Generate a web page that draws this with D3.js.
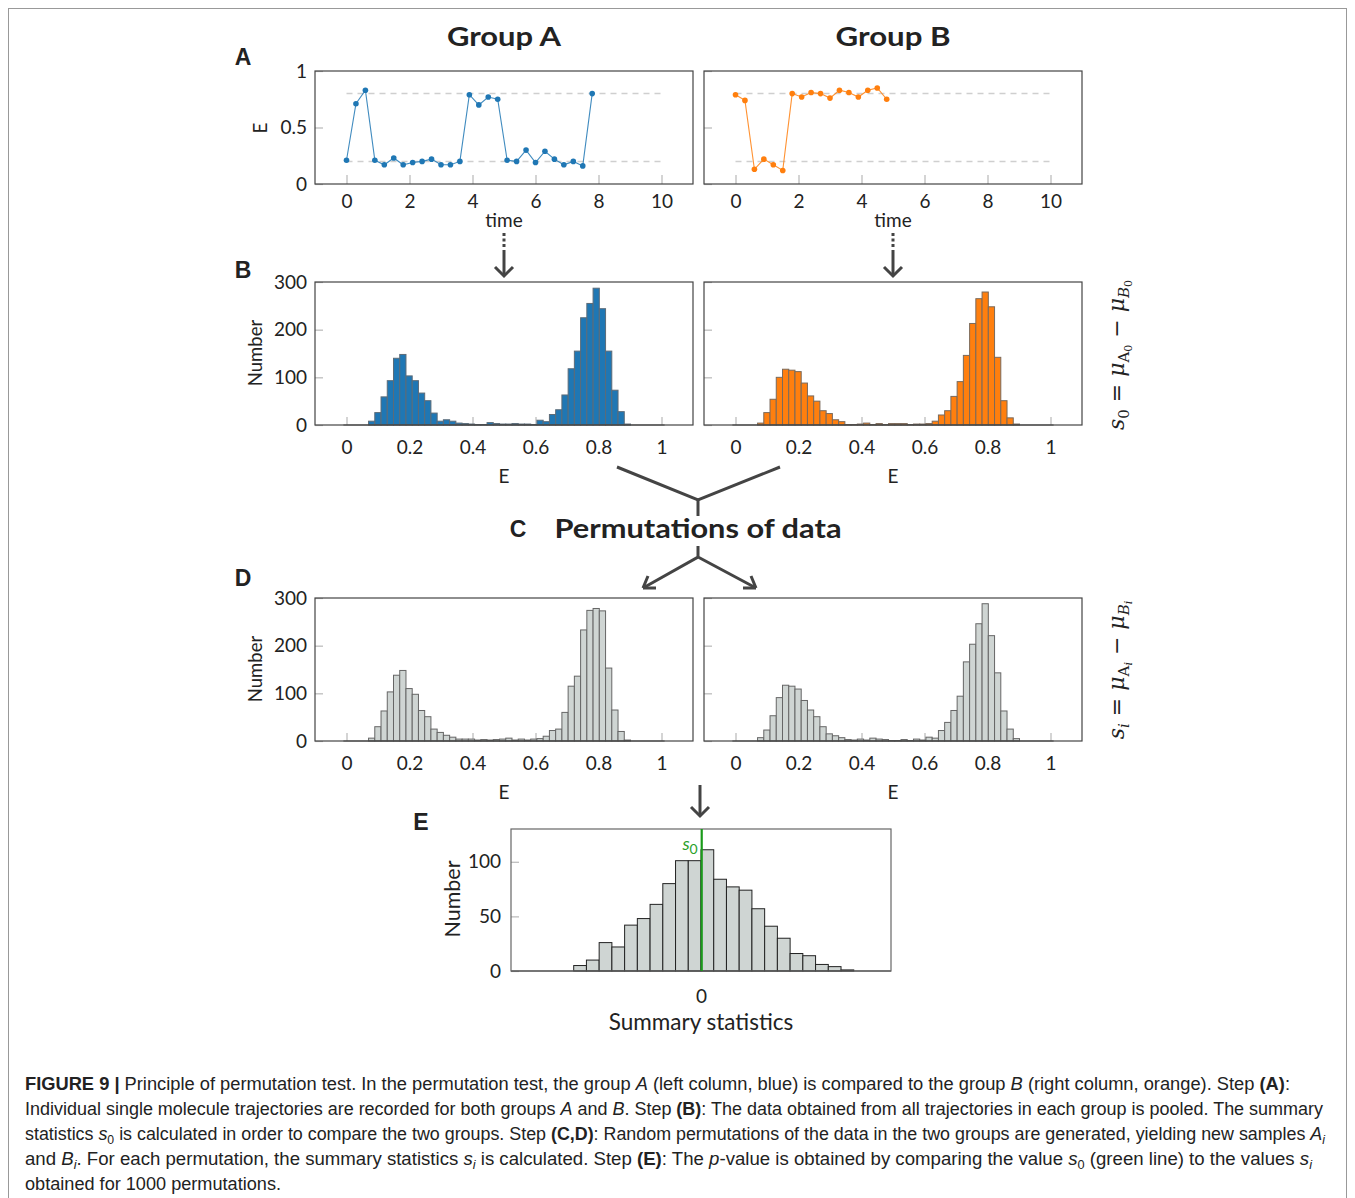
<!DOCTYPE html>
<html>
<head>
<meta charset="utf-8">
<script src="https://cdn.jsdelivr.net/npm/d3@7"></script>
<style>
  body { margin: 0; background: #fff; }
  svg text { font-family: Lato, "Open Sans", sans-serif; }
</style>
</head>
<body>
<svg width="1355" height="1198"></svg>
<script>
// ---- data ----
const timeA  = [0, 0.3, 0.6, 0.9, 1.2, 1.5, 1.8, 2.1, 2.4, 2.7, 3.0, 3.3, 3.6, 3.9, 4.2, 4.5, 4.8, 5.1, 5.4, 5.7, 6.0, 6.3, 6.6, 6.9, 7.2, 7.5, 7.8];
const valueA = [0.21, 0.71, 0.83, 0.21, 0.17, 0.23, 0.17, 0.19, 0.20, 0.22, 0.17, 0.17, 0.20, 0.79, 0.70, 0.77, 0.75, 0.21, 0.20, 0.30, 0.19, 0.29, 0.22, 0.17, 0.20, 0.16, 0.80];
const timeB  = [0, 0.3, 0.6, 0.9, 1.2, 1.5, 1.8, 2.1, 2.4, 2.7, 3.0, 3.3, 3.6, 3.9, 4.2, 4.5, 4.8];
const valueB = [0.79, 0.74, 0.13, 0.22, 0.17, 0.12, 0.80, 0.77, 0.81, 0.80, 0.76, 0.83, 0.81, 0.77, 0.83, 0.85, 0.75];
const levels = [0.2, 0.8];

// histograms of E: 42 bins starting at 0.07
const binStart = 0.07, binWidth = 0.0198;
const countsA0 = [8, 26, 59, 93, 140, 148, 103, 93, 67, 51, 25, 8, 11, 8, 4, 3, 2, 1, 1, 5, 3, 2, 2, 3, 2, 2, 1, 10, 7, 22, 32, 63, 118, 155, 225, 255, 287, 244, 155, 73, 28, 2];
const countsB0 = [4, 26, 54, 100, 117, 115, 112, 88, 61, 50, 30, 24, 11, 7, 1, 1, 2, 4, 1, 3, 1, 3, 3, 3, 1, 2, 2, 3, 8, 21, 30, 60, 91, 146, 213, 265, 279, 248, 142, 51, 15, 2];
const countsAi = [6, 30, 63, 103, 138, 148, 110, 98, 64, 51, 25, 18, 12, 8, 4, 4, 4, 2, 3, 2, 3, 4, 6, 2, 4, 2, 4, 5, 10, 22, 25, 60, 115, 136, 233, 274, 278, 273, 153, 65, 20, 2];
const countsBi = [7, 23, 53, 91, 117, 115, 109, 85, 65, 51, 30, 15, 11, 7, 3, 2, 4, 2, 6, 4, 3, 1, 1, 3, 1, 4, 2, 8, 6, 22, 39, 64, 94, 166, 203, 246, 288, 221, 143, 63, 25, 5];

// summary statistics histogram
const summaryBinStart = -0.0536, summaryBinWidth = 0.00536;
const summaryCounts = [5, 10, 26, 22, 42, 48, 61, 80, 101, 101, 111, 84, 77, 74, 57, 41, 30, 16, 14, 6, 4, 1];
const s0Value = 0.0003;

const timeTicks = [0, 2, 4, 6, 8, 10];
const eTicks = [0, 0.2, 0.4, 0.6, 0.8, 1];
const traceYTicks = [0, 0.5, 1];
const countTicks = [0, 100, 200, 300];
const summaryXTicks = [-0.02, 0, 0.02];
const summaryYTicks = [0, 50, 100];

// ---- drawing ----
const svg = d3.select("svg");
const FONT = "Lato, 'Open Sans', sans-serif";
const BOLD = "'Liberation Sans', Arial, sans-serif";
const colX = [315, 704], panelW = 378;

svg.append("rect").attr("x", 8.5).attr("y", 8.5).attr("width", 1338).attr("height", 1200)
  .attr("fill", "none").attr("stroke", "#999");

function styleAxis(sel, size) {
  sel.select(".domain").remove();
  sel.selectAll(".tick line").attr("stroke", "#b8b8b8").attr("stroke-width", 1.2);
  sel.selectAll(".tick text").attr("fill", "#222").style("font-family", FONT).style("font-size", size + "px");
}

function frame(g, w, h, color) {
  g.append("rect").attr("width", w).attr("height", h)
    .attr("fill", "none").attr("stroke", color || "#444").attr("stroke-width", 1.2);
}

function label(x, y, txt, size, opts) {
  opts = opts || {};
  const t = svg.append("text").attr("transform", `translate(${x},${y})` + (opts.rot ? " rotate(-90)" : ""))
    .attr("text-anchor", opts.anchor || "middle").attr("fill", opts.fill || "#222")
    .style("font-size", size + "px").text(txt);
  if (opts.bold) t.style("font-weight", "bold").style("font-family", opts.family || BOLD);
  if (opts.len) t.attr("textLength", opts.len).attr("lengthAdjust", "spacingAndGlyphs");
  return t;
}

// panel A: trajectories
function tracePanel(x0, times, values, color, showY) {
  const h = 113;
  const g = svg.append("g").attr("transform", `translate(${x0},71)`);
  const x = d3.scaleLinear().domain([-1, 11]).range([0, panelW]);
  const y = d3.scaleLinear().domain([0, 1]).range([h, 0]);
  g.append("g").attr("transform", `translate(0,${h})`)
    .call(d3.axisBottom(x).tickValues(timeTicks).tickSize(-9).tickPadding(11))
    .call(s => styleAxis(s, 19));
  g.append("g")
    .call(d3.axisLeft(y).tickValues(traceYTicks).tickSize(-8).tickPadding(8)
      .tickFormat(showY ? d3.format("~g") : () => ""))
    .call(s => styleAxis(s, 19));
  g.selectAll("line.level").data(levels).join("line").attr("class", "level")
    .attr("x1", x(0)).attr("x2", x(10)).attr("y1", d => y(d)).attr("y2", d => y(d))
    .attr("stroke", "#cfcfcf").attr("stroke-width", 1.5).attr("stroke-dasharray", "6,5");
  const pts = times.map((t, i) => [t, values[i]]);
  g.append("path").datum(pts)
    .attr("d", d3.line().x(d => x(d[0])).y(d => y(d[1])))
    .attr("fill", "none").attr("stroke", color).attr("stroke-width", 1.1).attr("opacity", 0.85);
  g.selectAll("circle").data(pts).join("circle")
    .attr("cx", d => x(d[0])).attr("cy", d => y(d[1])).attr("r", 2.8).attr("fill", color);
  frame(g, panelW, h);
}

// panels B, D: histograms of E
function histPanel(x0, y0, counts, fill, stroke, showY) {
  const h = 143;
  const g = svg.append("g").attr("transform", `translate(${x0},${y0})`);
  const x = d3.scaleLinear().domain([-0.1, 1.1]).range([0, panelW]);
  const y = d3.scaleLinear().domain([0, 300]).range([h, 0]);
  g.append("g").attr("transform", `translate(0,${h})`)
    .call(d3.axisBottom(x).tickValues(eTicks).tickSize(-8).tickPadding(16).tickFormat(d3.format("~g")))
    .call(s => styleAxis(s, 19));
  g.append("g")
    .call(d3.axisLeft(y).tickValues(countTicks).tickSize(-8).tickPadding(8)
      .tickFormat(showY ? d3.format("d") : () => ""))
    .call(s => styleAxis(s, 19));
  g.selectAll("rect.bar").data(counts).join("rect").attr("class", "bar")
    .attr("x", (d, i) => x(binStart + i * binWidth))
    .attr("width", (d, i) => x(binStart + (i + 1) * binWidth) - x(binStart + i * binWidth))
    .attr("y", d => y(d)).attr("height", d => y(0) - y(d))
    .attr("fill", fill).attr("stroke", stroke).attr("stroke-width", 1);
  g.append("line").attr("x1", x(-0.01)).attr("x2", x(1.01)).attr("y1", h).attr("y2", h)
    .attr("stroke", "#555").attr("stroke-width", 1.2);
  frame(g, panelW, h);
}

tracePanel(colX[0], timeA, valueA, "#1f77b4", true);
tracePanel(colX[1], timeB, valueB, "#ff7f0e", false);
histPanel(colX[0], 282, countsA0, "#1f77b4", "#5c6b78", true);
histPanel(colX[1], 282, countsB0, "#ff7f0e", "#7a6a5c", false);
histPanel(colX[0], 598, countsAi, "#cfd5d3", "#666", true);
histPanel(colX[1], 598, countsBi, "#cfd5d3", "#666", false);

// panel E: summary statistics
(function () {
  const w = 380, h = 142;
  const g = svg.append("g").attr("transform", "translate(511,829)");
  const x = d3.scaleLinear().domain([-0.08, 0.08]).range([0, w]);
  const y = d3.scaleLinear().domain([0, 130]).range([h, 0]);
  g.append("g").attr("transform", `translate(0,${h})`)
    .call(d3.axisBottom(x).tickValues(summaryXTicks).tickSize(-8).tickPadding(19).tickFormat(d => d === 0 ? "0" : ""))
    .call(s => styleAxis(s, 19));
  g.append("g")
    .call(d3.axisLeft(y).tickValues(summaryYTicks).tickSize(-8).tickPadding(10).tickFormat(d3.format("d")))
    .call(s => styleAxis(s, 19));
  g.selectAll("rect.bar").data(summaryCounts).join("rect").attr("class", "bar")
    .attr("x", (d, i) => x(summaryBinStart + i * summaryBinWidth))
    .attr("width", (d, i) => x(summaryBinStart + (i + 1) * summaryBinWidth) - x(summaryBinStart + i * summaryBinWidth))
    .attr("y", d => y(d)).attr("height", d => y(0) - y(d))
    .attr("fill", "#cfd5d3").attr("stroke", "#222").attr("stroke-width", 1);
  g.append("line").attr("x1", 0).attr("x2", w).attr("y1", h).attr("y2", h)
    .attr("stroke", "#222").attr("stroke-width", 1.2);
  frame(g, w, h, "#666");
  g.append("line").attr("x1", x(s0Value)).attr("x2", x(s0Value)).attr("y1", 0).attr("y2", h)
    .attr("stroke", "#1a9a1a").attr("stroke-width", 2.2);
  const t = g.append("text").attr("x", x(s0Value) - 4).attr("y", 21).attr("text-anchor", "end")
    .attr("fill", "#2aa02a").style("font-size", "18px");
  t.append("tspan").style("font-style", "italic").text("s");
  t.append("tspan").attr("dy", 4).style("font-size", "14px").text("0");
})();

// axis titles
label(504, 227, "time", 19);
label(893, 227, "time", 19);
label(267, 128, "E", 19, { rot: true });
label(504, 483, "E", 19);
label(893, 483, "E", 19);
label(504, 799, "E", 19);
label(893, 799, "E", 19);
label(262, 353, "Number", 18.5, { rot: true });
label(262, 669, "Number", 18.5, { rot: true });
label(460, 899, "Number", 21.5, { rot: true });
label(701, 1030, "Summary statistics", 22.5);

// titles and panel letters
label(504, 46, "Group A", 26, { bold: true, family: FONT, len: 114 });
label(893, 46, "Group B", 26, { bold: true, family: FONT, len: 115 });
label(698, 538, "Permutations of data", 27, { bold: true, family: FONT, len: 287 });
label(243, 65, "A", 23, { bold: true });
label(243, 278, "B", 23, { bold: true });
label(518, 537, "C", 23, { bold: true });
label(243, 586, "D", 23, { bold: true });
label(421, 830, "E", 23, { bold: true });

// formulas on the right
function formula(y, sub) {
  const t = svg.append("text").attr("transform", `translate(1124,${y}) rotate(-90)`)
    .attr("text-anchor", "middle").attr("fill", "#222").style("font-size", "22px")
    .style("font-family", "'DejaVu Serif', serif");
  t.append("tspan").style("font-style", "italic").text("s");
  t.append("tspan").attr("dy", 5).style("font-size", "15px").style("font-style", sub === "i" ? "italic" : "normal").text(sub);
  t.append("tspan").attr("dy", -5).text(" = ");
  t.append("tspan").style("font-style", "italic").text("μ");
  t.append("tspan").attr("dy", 5).style("font-size", "15px").text("A");
  t.append("tspan").attr("dy", 3).style("font-size", "11px").style("font-style", sub === "i" ? "italic" : "normal").text(sub);
  t.append("tspan").attr("dy", -8).text(" − ");
  t.append("tspan").style("font-style", "italic").text("μ");
  t.append("tspan").attr("dy", 5).style("font-size", "15px").style("font-style", "italic").text("B");
  t.append("tspan").attr("dy", 3).style("font-size", "11px").style("font-style", sub === "i" ? "italic" : "normal").text(sub);
}
formula(355, "0");
formula(670, "i");

// connecting arrows
const arrowColor = "#444";
function path(d, dash) {
  const p = svg.append("path").attr("d", d).attr("fill", "none").attr("stroke", arrowColor)
    .attr("stroke-width", 3).attr("stroke-linejoin", "miter");
  if (dash) p.attr("stroke-dasharray", dash);
}
[504, 893].forEach(cx => {
  path(`M${cx},233 V248`, "3,2.5");
  path(`M${cx},250 V276`);
  path(`M${cx - 9},267 L${cx},276 L${cx + 9},267`);
});
path("M617,467 L698,500 L780,467");
path("M698,500 V516");
path("M698,546 V557 L643,588 M698,557 L756,588");
path("M643,588 L648,576 M643,588 L656,588");
path("M756,588 L751,576 M756,588 L743,588");
path("M700,785 V816");
path("M691,807 L700,816 L709,807");

// caption
const capFont = "'Liberation Sans Narrow', 'Liberation Sans', Arial, sans-serif";
function captionLine(y, parts, len) {
  const t = svg.append("text").attr("x", 25).attr("y", y).attr("fill", "#222")
    .style("font-family", capFont).style("font-size", "17.5px");
  if (len) t.attr("textLength", len).attr("lengthAdjust", "spacingAndGlyphs");
  let shifted = false;
  parts.forEach(p => {
    const s = t.append("tspan").text(p.t);
    if (p.b) s.style("font-weight", "bold");
    if (p.i) s.style("font-style", "italic");
    if (p.sub) { s.attr("dy", 4).style("font-size", "12px"); if (p.subi) s.style("font-style", "italic"); shifted = true; }
    else if (shifted) { s.attr("dy", -4); shifted = false; }
  });
}
captionLine(1090, [
  { t: "FIGURE 9 | ", b: true }, { t: "Principle of permutation test. In the permutation test, the group " },
  { t: "A", i: true }, { t: " (left column, blue) is compared to the group " }, { t: "B", i: true },
  { t: " (right column, orange). Step " }, { t: "(A)", b: true }, { t: ":" }], 1265);
captionLine(1115, [
  { t: "Individual single molecule trajectories are recorded for both groups " }, { t: "A", i: true },
  { t: " and " }, { t: "B", i: true }, { t: ". Step " }, { t: "(B)", b: true },
  { t: ": The data obtained from all trajectories in each group is pooled. The summary" }], 1298);
captionLine(1140, [
  { t: "statistics " }, { t: "s", i: true }, { t: "0", sub: true },
  { t: " is calculated in order to compare the two groups. Step " }, { t: "(C,D)", b: true },
  { t: ": Random permutations of the data in the two groups are generated, yielding new samples " },
  { t: "A", i: true }, { t: "i", sub: true, subi: true }], 1300);
captionLine(1165, [
  { t: "and " }, { t: "B", i: true }, { t: "i", sub: true, subi: true },
  { t: ". For each permutation, the summary statistics " }, { t: "s", i: true }, { t: "i", sub: true, subi: true },
  { t: " is calculated. Step " }, { t: "(E)", b: true }, { t: ": The " }, { t: "p", i: true },
  { t: "-value is obtained by comparing the value " }, { t: "s", i: true }, { t: "0", sub: true },
  { t: " (green line) to the values " }, { t: "s", i: true }, { t: "i", sub: true, subi: true }], 1287);
captionLine(1190, [{ t: "obtained for 1000 permutations." }], 256);
</script>
</body>
</html>
